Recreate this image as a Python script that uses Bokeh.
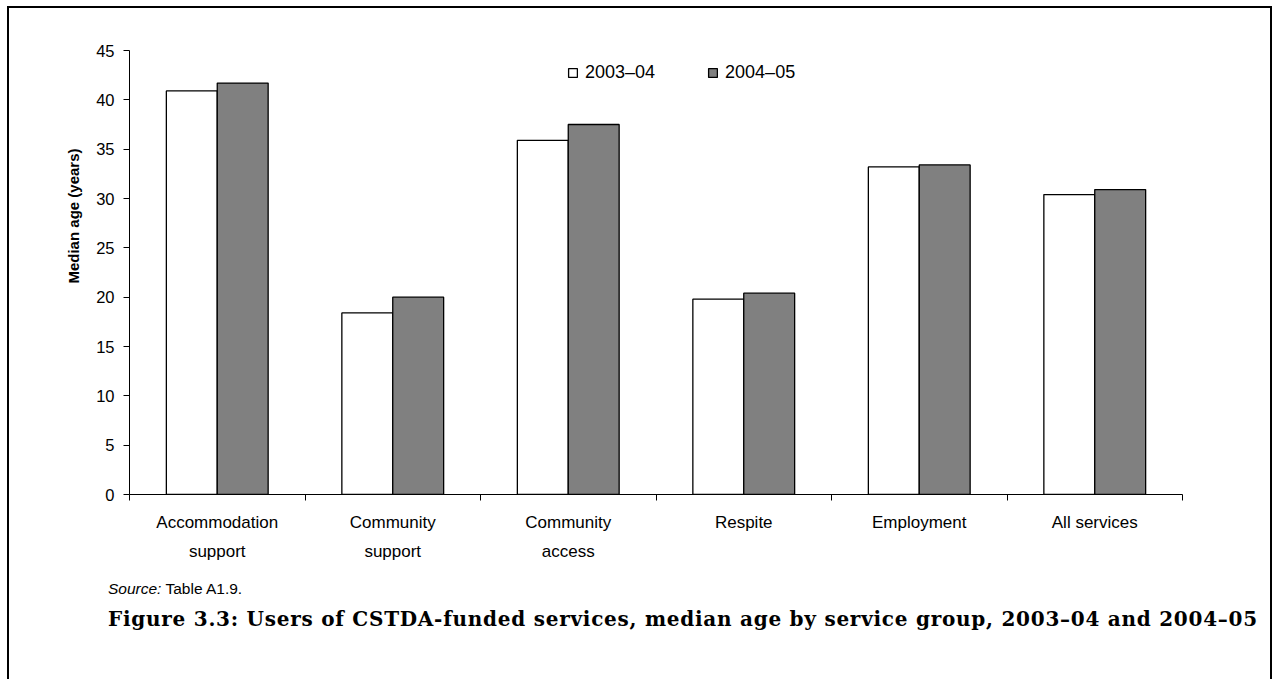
from bokeh.plotting import figure
from bokeh.models import (Range1d, FixedTicker, Legend, LegendItem, Title,
                          ColumnDataSource, Div)
from bokeh.layouts import column
from bokeh.embed import file_html
from bokeh.resources import INLINE

# ---- data ----
categories = ["Accommodation\nsupport", "Community\nsupport", "Community\naccess",
              "Respite", "Employment", "All services"]
series_names = ["2003\u201304", "2004\u201305"]
values_2003_04 = [40.9, 18.4, 35.9, 19.8, 33.2, 30.4]
values_2004_05 = [41.7, 20.0, 37.5, 20.4, 33.4, 30.9]
y_ticks = [0, 5, 10, 15, 20, 25, 30, 35, 40, 45]
y_title = "Median age (years)"
source_note = "Table A1.9."
caption = ("Figure 3.3: Users of CSTDA-funded services, median age by service group, "
           "2003\u201304 and 2004\u201305")

FONT = "Liberation Sans"

# page offsets produced by the CSS frame (margin + border)
OX, OY = 9, 8

p = figure(width=1261, height=562, output_backend="svg", toolbar_location=None,
           x_range=Range1d(0, len(categories)), y_range=Range1d(0, 45),
           min_border_left=129 - OX, min_border_right=(1270 - 1182),
           min_border_top=50 - OY, min_border_bottom=562 - (494 - OY))
p.outline_line_color = None
p.xgrid.visible = False
p.ygrid.visible = False
p.background_fill_color = "white"
p.border_fill_color = "white"

centers = [i + 0.5 for i in range(len(categories))]
bw = 0.29
src1 = ColumnDataSource(dict(x=[c - bw / 2 for c in centers], top=values_2003_04))
src2 = ColumnDataSource(dict(x=[c + bw / 2 for c in centers], top=values_2004_05))
r1 = p.vbar(x="x", top="top", bottom=0, width=bw, source=src1,
            fill_color="white", line_color="black", line_width=1.3)
r2 = p.vbar(x="x", top="top", bottom=0, width=bw, source=src2,
            fill_color="#808080", line_color="black", line_width=1.3)

# y axis
yax = p.yaxis[0]
yax.ticker = FixedTicker(ticks=y_ticks)
yax.axis_line_color = "black"
yax.major_tick_line_color = "black"
yax.major_tick_out = 6
yax.major_tick_in = 0
yax.minor_tick_line_color = None
yax.major_label_text_font = FONT
yax.major_label_text_font_size = "16.5px"
yax.major_label_text_color = "black"
yax.major_label_standoff = 9

# x axis: labels at centers, ticks at boundaries
xax = p.xaxis[0]
xax.ticker = FixedTicker(ticks=centers, minor_ticks=list(range(len(categories) + 1)))
xax.major_label_overrides = {c: lab for c, lab in zip(centers, categories)}
xax.axis_line_color = "black"
xax.major_tick_line_color = None
xax.major_tick_out = 6
xax.major_tick_in = 0
xax.minor_tick_line_color = "black"
xax.minor_tick_out = 6
xax.minor_tick_in = 0
xax.major_label_text_font = FONT
xax.major_label_text_font_size = "17px"
xax.major_label_text_color = "black"
xax.major_label_text_line_height = 1.55
xax.major_label_standoff = 12

# y axis title (placed in the left panel, shifted toward the top)
p.add_layout(Title(text=y_title, align="right", offset=98, standoff=24,
                   text_font=FONT, text_font_size="15px", text_font_style="bold",
                   text_color="black"), "left")

# legend
legend = Legend(items=[LegendItem(label=series_names[0], renderers=[r1]),
                       LegendItem(label=series_names[1], renderers=[r2])],
                orientation="horizontal", location=(438, 411),
                glyph_width=11, glyph_height=11, label_standoff=7, spacing=52,
                padding=0, margin=0, border_line_color=None,
                background_fill_alpha=0,
                label_text_font=FONT, label_text_font_size="18px",
                label_text_color="black")
p.add_layout(legend, "center")

notes_div = Div(width=1261, height=100,
                text=('<div style="position:relative;height:100px">'
                      '<div style="position:absolute;left:%dpx;top:5px;'
                      'font-family:\'Liberation Sans\';font-size:15.5px;line-height:17px;'
                      'color:black;white-space:nowrap"><i>Source:</i> %s</div>'
                      '<div style="position:absolute;left:%dpx;top:33px;'
                      'font-family:\'DejaVu Serif\';font-weight:bold;font-size:20px;'
                      'letter-spacing:0.74px;line-height:22px;color:black;'
                      'white-space:nowrap">%s</div></div>')
                % (108 - OX - 5, source_note, 108 - OX - 5, caption))

root = column(p, notes_div, spacing=0,
              styles={"margin-left": "7px", "margin-top": "6px",
                      "width": "1261px", "box-sizing": "content-box",
                      "border-left": "2px solid black",
                      "border-top": "2px solid black",
                      "border-right": "2px solid black",
                      "background": "white"})

open("out.html", "w").write(file_html(root, INLINE))
